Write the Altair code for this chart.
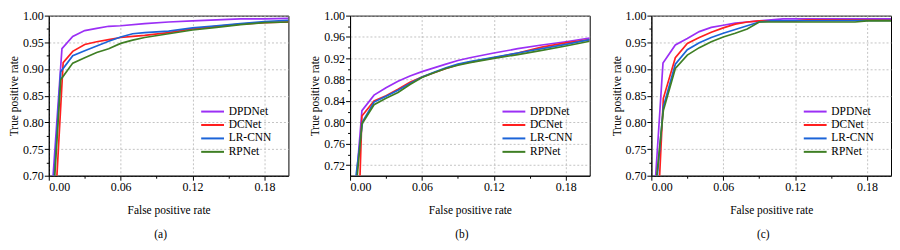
import altair as alt
import pandas as pd

FONT = "Liberation Serif, Times New Roman, Times, serif"
series = ["DPDNet", "DCNet", "LR-CNN", "RPNet"]
colors = ["#9b2ff5", "#ff1f1f", "#1c64d8", "#3f7f24"]

# ---------------- panel (a) ----------------
a_dpd_x = [0.0036, 0.011, 0.02, 0.03, 0.04, 0.05, 0.06, 0.08, 0.10, 0.12, 0.14, 0.16, 0.18, 0.20]
a_dpd_y = [0.70, 0.938, 0.961, 0.972, 0.976, 0.980, 0.981, 0.985, 0.988, 0.990, 0.992, 0.994, 0.994, 0.995]
a_dc_x = [0.0068, 0.012, 0.02, 0.03, 0.04, 0.05, 0.06, 0.07, 0.08, 0.10, 0.12, 0.14, 0.16, 0.18, 0.20]
a_dc_y = [0.70, 0.912, 0.933, 0.946, 0.951, 0.955, 0.959, 0.961, 0.963, 0.968, 0.975, 0.980, 0.984, 0.987, 0.988]
a_lr_x = [0.0045, 0.010, 0.02, 0.03, 0.04, 0.05, 0.06, 0.07, 0.08, 0.10, 0.12, 0.14, 0.16, 0.18, 0.20]
a_lr_y = [0.70, 0.895, 0.925, 0.934, 0.943, 0.952, 0.960, 0.966, 0.968, 0.971, 0.977, 0.981, 0.985, 0.989, 0.991]
a_rp_x = [0.005, 0.010, 0.02, 0.03, 0.04, 0.05, 0.06, 0.07, 0.08, 0.10, 0.12, 0.14, 0.16, 0.18, 0.20]
a_rp_y = [0.70, 0.880, 0.911, 0.921, 0.931, 0.938, 0.948, 0.954, 0.959, 0.966, 0.973, 0.978, 0.983, 0.987, 0.988]

# ---------------- panel (b) ----------------
b_dpd_x = [0.0055, 0.0099, 0.02, 0.03, 0.04, 0.05, 0.06, 0.07, 0.08, 0.09, 0.10, 0.12, 0.14, 0.16, 0.18, 0.20]
b_dpd_y = [0.70, 0.822, 0.851, 0.865, 0.877, 0.887, 0.895, 0.902, 0.909, 0.916, 0.921, 0.930, 0.938, 0.945, 0.951, 0.958]
b_dc_x = [0.0083, 0.0099, 0.02, 0.03, 0.04, 0.05, 0.06, 0.07, 0.08, 0.09, 0.10, 0.12, 0.14, 0.16, 0.18, 0.20]
b_dc_y = [0.70, 0.812, 0.840, 0.850, 0.862, 0.875, 0.885, 0.893, 0.901, 0.908, 0.913, 0.921, 0.930, 0.941, 0.949, 0.955]
b_lr_x = [0.005, 0.0104, 0.02, 0.03, 0.04, 0.05, 0.06, 0.07, 0.08, 0.09, 0.10, 0.12, 0.14, 0.16, 0.18, 0.20]
b_lr_y = [0.70, 0.801, 0.838, 0.849, 0.860, 0.873, 0.885, 0.894, 0.902, 0.909, 0.914, 0.922, 0.930, 0.938, 0.946, 0.955]
b_rp_x = [0.006, 0.0099, 0.02, 0.03, 0.04, 0.05, 0.06, 0.07, 0.08, 0.09, 0.10, 0.12, 0.14, 0.16, 0.18, 0.20]
b_rp_y = [0.70, 0.797, 0.833, 0.845, 0.856, 0.871, 0.884, 0.893, 0.901, 0.907, 0.912, 0.920, 0.927, 0.935, 0.943, 0.952]

# ---------------- panel (c) ----------------
c_dpd_x = [0.0036, 0.0097, 0.02, 0.03, 0.04, 0.05, 0.06, 0.07, 0.08, 0.09, 0.10, 0.11, 0.20]
c_dpd_y = [0.70, 0.911, 0.945, 0.957, 0.970, 0.978, 0.982, 0.986, 0.988, 0.990, 0.992, 0.994, 0.994]
c_dc_x = [0.0069, 0.010, 0.02, 0.03, 0.04, 0.05, 0.06, 0.07, 0.08, 0.09, 0.12, 0.13, 0.20]
c_dc_y = [0.70, 0.845, 0.921, 0.948, 0.959, 0.969, 0.977, 0.984, 0.988, 0.990, 0.990, 0.992, 0.992]
c_lr_x = [0.005, 0.010, 0.02, 0.03, 0.04, 0.05, 0.06, 0.07, 0.08, 0.09, 0.10, 0.20]
c_lr_y = [0.70, 0.829, 0.909, 0.936, 0.949, 0.959, 0.967, 0.974, 0.981, 0.988, 0.990, 0.991]
c_rp_x = [0.0045, 0.010, 0.02, 0.03, 0.04, 0.05, 0.06, 0.07, 0.08, 0.09, 0.17, 0.18, 0.20]
c_rp_y = [0.70, 0.822, 0.901, 0.926, 0.940, 0.951, 0.960, 0.967, 0.975, 0.988, 0.988, 0.990, 0.990]

# axis tick values (major + minor)
x_ticks = [0.0, 0.03, 0.06, 0.09, 0.12, 0.15, 0.18]
y_ticks_ac = [0.70, 0.725, 0.75, 0.775, 0.80, 0.825, 0.85, 0.875, 0.90, 0.925, 0.95, 0.975, 1.00]
y_ticks_b = [0.72, 0.74, 0.76, 0.78, 0.80, 0.82, 0.84, 0.86, 0.88, 0.90, 0.92, 0.94, 0.96, 0.98, 1.00]

X_MAJOR = "abs(datum.value/0.06 - round(datum.value/0.06)) < 1e-6"
Y_MAJOR_AC = "abs(datum.value*20 - round(datum.value*20)) < 1e-6"
Y_MAJOR_B = "abs((datum.value-0.72)/0.04 - round((datum.value-0.72)/0.04)) < 1e-6"


def make_df(pairs):
    rows = []
    for name, xs, ys in pairs:
        for i, (x, y) in enumerate(zip(xs, ys)):
            rows.append({"model": name, "fpr": x, "tpr": y, "idx": i})
    return pd.DataFrame(rows)


def axis(values, major, title, orient):
    return alt.Axis(
        values=values,
        title=title,
        orient=orient,
        labelExpr=f"({major}) ? format(datum.value, '.2f') : ''",
        tickSize={"condition": {"test": major, "value": 4.5}, "value": 2.5},
        gridOpacity={"condition": {"test": major, "value": 1}, "value": 0},
        labelPadding=1,
        titlePadding=13 if orient == "bottom" else 3,
    )


def panel(pairs, y_ticks, y_major, letter):
    df = make_df(pairs)
    return (
        alt.Chart(df)
        .mark_line(strokeWidth=1.7, clip=True)
        .encode(
            x=alt.X("fpr:Q", scale=alt.Scale(domain=[0, 0.2], nice=False),
                    axis=axis(x_ticks, X_MAJOR, "False positive rate", "bottom")),
            y=alt.Y("tpr:Q", scale=alt.Scale(domain=[0.7, 1.0], nice=False, zero=False),
                    axis=axis(y_ticks, y_major, "True positive rate", "left")),
            color=alt.Color(
                "model:N",
                scale=alt.Scale(domain=series, range=colors),
                legend=alt.Legend(
                    title=None, orient="none", legendX=152, legendY=90,
                    symbolType="M-1,0H3.4", symbolSize=109, symbolStrokeWidth=2,
                    labelFont=FONT, labelFontSize=11.5, labelColor="black",
                    labelFontWeight="normal",
                    labelOffset=16, rowPadding=1.5, padding=0,
                ),
            ),
            order="idx:Q",
        )
        .properties(
            width=241, height=161,
            title=alt.TitleParams(letter, orient="bottom", offset=13, frame="group",
                                  dx=-8, font=FONT, fontSize=11.5, fontWeight="normal",
                                  color="black"),
        )
    )


pa = panel([("DPDNet", a_dpd_x, a_dpd_y), ("DCNet", a_dc_x, a_dc_y),
            ("LR-CNN", a_lr_x, a_lr_y), ("RPNet", a_rp_x, a_rp_y)],
           y_ticks_ac, Y_MAJOR_AC, "(a)")
pb = panel([("DPDNet", b_dpd_x, b_dpd_y), ("DCNet", b_dc_x, b_dc_y),
            ("LR-CNN", b_lr_x, b_lr_y), ("RPNet", b_rp_x, b_rp_y)],
           y_ticks_b, Y_MAJOR_B, "(b)")
pc = panel([("DPDNet", c_dpd_x, c_dpd_y), ("DCNet", c_dc_x, c_dc_y),
            ("LR-CNN", c_lr_x, c_lr_y), ("RPNet", c_rp_x, c_rp_y)],
           y_ticks_ac, Y_MAJOR_AC, "(c)")

chart = (
    alt.hconcat(pa, pb, pc, spacing=62, bounds="flush")
    .resolve_legend(color="independent")
    .properties(padding={"left": 0, "top": 0, "right": 0, "bottom": 0})
    .configure(background="white", font=FONT)
    .configure_view(stroke="black", strokeWidth=1)
    .configure_axis(
        labelFont=FONT, titleFont=FONT, labelFontSize=12, titleFontSize=11.5,
        titleFontWeight="normal", labelColor="black", titleColor="black",
        domainColor="black", domainWidth=1, tickColor="black", tickWidth=1,
        gridColor="#b4b4b4", gridDash=[2, 2], gridWidth=0.8,
    )
    .configure_legend(labelFont=FONT)
)

chart.save("out.html", embed_options={"renderer": "svg", "actions": False})
